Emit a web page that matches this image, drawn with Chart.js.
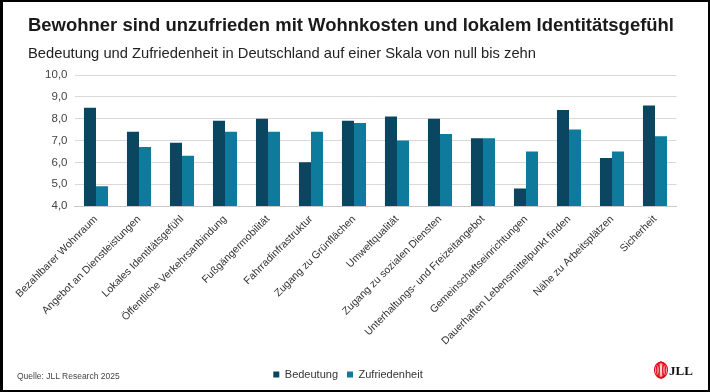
<!DOCTYPE html>
<html>
<head>
<meta charset="utf-8">
<script src="https://cdn.jsdelivr.net/npm/chart.js@4.4.1/dist/chart.umd.min.js"></script>
<style>
  html, body { margin: 0; padding: 0; background: #fff; }
  #wrap { position: relative; width: 710px; height: 392px; overflow: hidden; background: #fff; }
  #frame { position: absolute; left: 0; top: 0; height: 388px; border: 2px solid #000; border-left-width: 3px; width: 705px; pointer-events: none; z-index: 5; }
  #c { position: absolute; left: 0; top: 0; }
  .txt { position: absolute; font-family: "Liberation Sans", Arial, sans-serif; white-space: nowrap; transform-origin: 0 0; }
  #title { left: 28px; top: 14px; font-size: 19px; font-weight: bold; color: #1a1a1a; }
  #subtitle { left: 28px; top: 44px; font-size: 15px; color: #222; }
  #source { left: 17px; top: 371px; font-size: 8.5px; color: #444; }
  #logo { position: absolute; left: 653px; top: 360px; }
</style>
</head>
<body>
<div id="wrap">
  <canvas id="c" width="710" height="392"></canvas>
  <div id="title" class="txt">Bewohner sind unzufrieden mit Wohnkosten und lokalem Identitätsgefühl</div>
  <div id="subtitle" class="txt">Bedeutung und Zufriedenheit in Deutschland auf einer Skala von null bis zehn</div>
  <div id="source" class="txt">Quelle: JLL Research 2025</div>
  <svg id="logo" width="42" height="20" viewBox="0 0 42 20">
    <g fill="none" stroke="#e30613" stroke-width="1.1">
      <ellipse cx="8" cy="10" rx="6.5" ry="8"/>
      <ellipse cx="8" cy="10" rx="4.8" ry="8"/>
      <ellipse cx="8" cy="10" rx="3.1" ry="8"/>
      <ellipse cx="8" cy="10" rx="1.4" ry="8"/>
    </g>
    <text x="16" y="15" font-family="Liberation Serif, serif" font-weight="bold" font-size="13" fill="#111">JLL</text>
  </svg>
  <div id="frame"></div>
</div>
<script>
const categories = [
  "Bezahlbarer Wohnraum",
  "Angebot an Dienstleistungen",
  "Lokales Identitätsgefühl",
  "Öffentliche Verkehrsanbindung",
  "Fußgängermobilität",
  "Fahrradinfrastruktur",
  "Zugang zu Grünflächen",
  "Umweltqualität",
  "Zugang zu sozialen Diensten",
  "Unterhaltungs- und Freizeitangebot",
  "Gemeinschaftseinrichtungen",
  "Dauerhaften Lebensmittelpunkt finden",
  "Nähe zu Arbeitsplätzen",
  "Sicherheit"
];
const bedeutung = [8.5, 7.4, 6.9, 7.9, 8.0, 6.0, 7.9, 8.1, 8.0, 7.1, 4.8, 8.4, 6.2, 8.6];
const zufriedenheit = [4.9, 6.7, 6.3, 7.4, 7.4, 7.4, 7.8, 7.0, 7.3, 7.1, 6.5, 7.5, 6.5, 7.2];
const seriesNames = ["Bedeutung", "Zufriedenheit"];
const yMin = 4, yMax = 10, yStep = 1;

function fitWidth(id, w) {
  const el = document.getElementById(id);
  const cw = el.getBoundingClientRect().width;
  el.style.transform = 'scaleX(' + (w / cw) + ')';
}
fitWidth('title', 646);
fitWidth('subtitle', 508);

const font = "'Liberation Sans', Arial, sans-serif";
new Chart(document.getElementById('c'), {
  type: 'bar',
  data: {
    labels: categories,
    datasets: [
      { label: seriesNames[0], data: bedeutung, backgroundColor: '#0b4660' },
      { label: seriesNames[1], data: zufriedenheit, backgroundColor: '#0e7b9d' }
    ]
  },
  options: {
    responsive: false,
    animation: false,
    devicePixelRatio: 1,
    layout: { padding: { top: 75, left: 19.5, right: 33.5, bottom: 2 } },
    datasets: { bar: { categoryPercentage: 0.56, barPercentage: 1.0 } },
    plugins: {
      legend: {
        position: 'bottom',
        labels: { boxWidth: 6, boxHeight: 6, color: '#333', font: { family: font, size: 11 }, padding: 9 }
      },
      tooltip: { enabled: false }
    },
    scales: {
      x: {
        grid: { display: false, drawTicks: false },
        border: { display: true, color: '#c8c8c8' },
        ticks: { minRotation: 45, maxRotation: 45, color: '#333', font: { family: font, size: 10.5 }, padding: 7, autoSkip: false },
        afterFit: s => { s.height = 154; }
      },
      y: {
        min: yMin, max: yMax,
        grid: { color: '#d9d9d9', drawTicks: false },
        border: { display: false },
        ticks: { stepSize: yStep, color: '#444', font: { family: font, size: 11.5 }, padding: 7,
          callback: v => v.toFixed(1).replace('.', ',') },
        afterFit: s => { s.width = 55; }
      }
    }
  }
});
</script>
</body>
</html>
